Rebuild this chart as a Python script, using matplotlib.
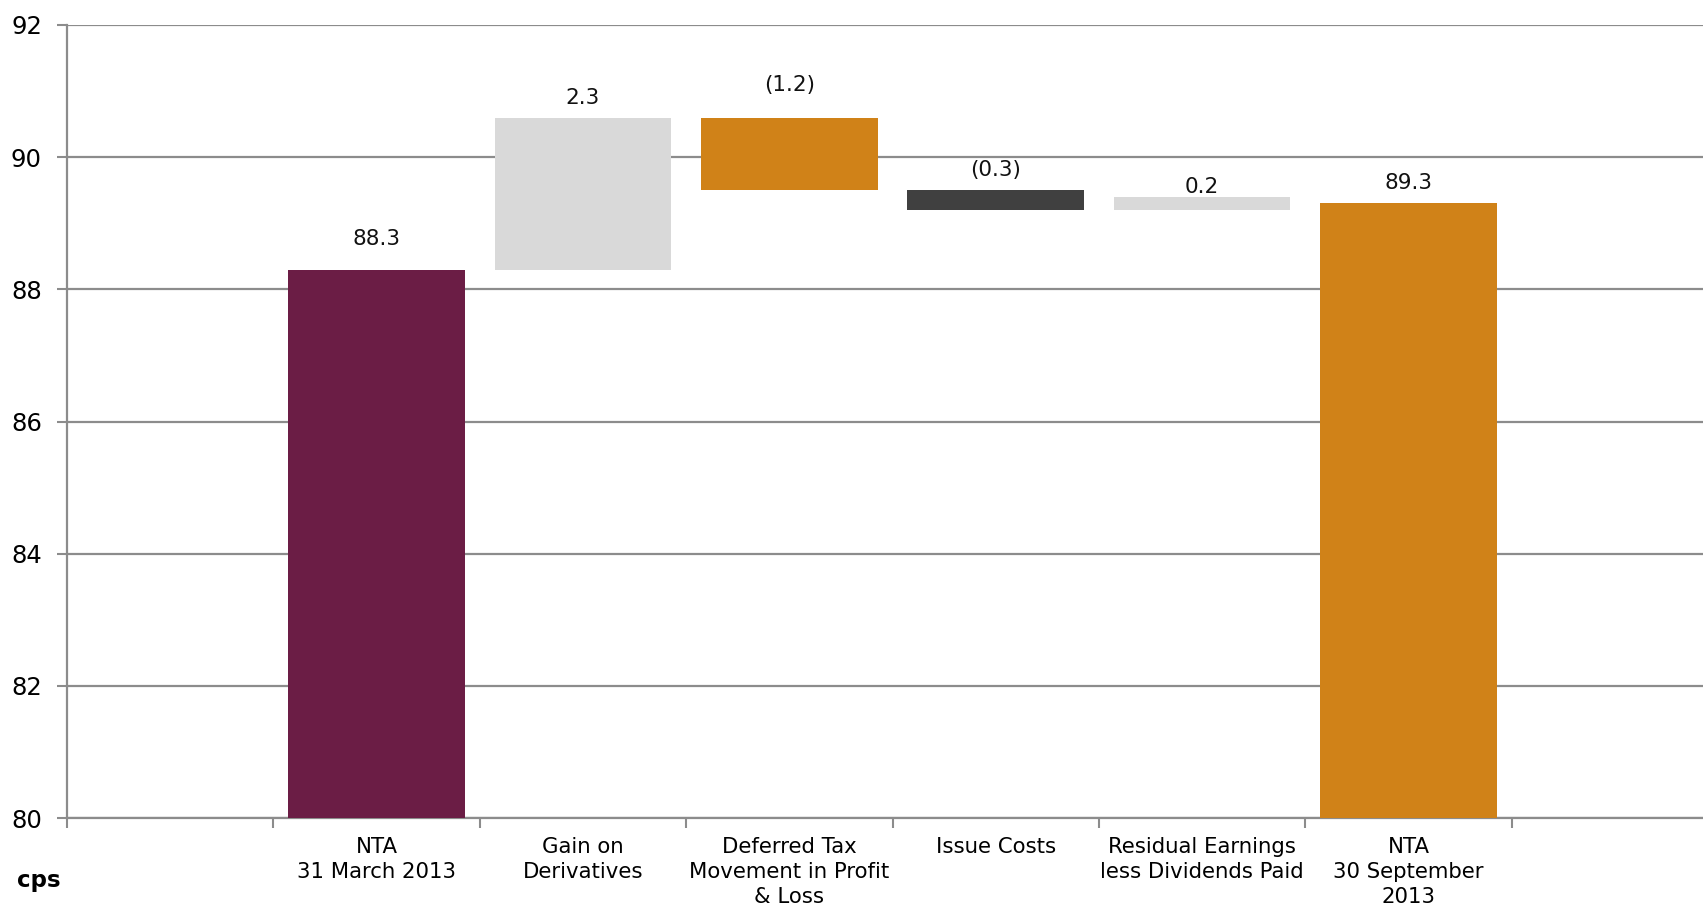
import matplotlib
matplotlib.use("Agg")
import matplotlib.pyplot as plt
import numpy as np

# waterfall steps (cps)
categories = ["", "NTA\n31 March 2013", "Gain on\nDerivatives", "Deferred Tax\nMovement in Profit\n& Loss",
              "Issue Costs", "Residual Earnings\nless Dividends Paid", "NTA\n30 September\n2013", ""]
bar_low = [80.0, 88.3, 89.5, 89.2, 89.2, 80.0]
bar_high = [88.3, 90.6, 90.6, 89.5, 89.4, 89.3]
value_labels = ["88.3", "2.3", "(1.2)", "(0.3)", "0.2", "89.3"]
bar_colors = ["#6B1D45", "#D9D9D9", "#D08218", "#404040", "#D9D9D9", "#D08218"]
label_pad = [15, 6.5, 16, 7, 0, 7.5]  # points above bar top

GRID = "#8C8C8C"

fig = plt.figure(figsize=(17.03, 9.07), dpi=100)
ax = fig.add_axes([67 / 1703, 1 - 818 / 907, (1718 - 67) / 1703, (818 - 25) / 907])

xs = np.arange(1, 1 + len(bar_low))
heights = np.array(bar_high) - np.array(bar_low)
ax.bar(xs, heights, bottom=bar_low, width=0.857, color=bar_colors, zorder=3)

for x, top, text, pad in zip(xs, bar_high, value_labels, label_pad):
    ax.annotate(text, (x, top), xytext=(0, pad), textcoords="offset points",
                ha="center", va="bottom", fontsize=15.5, color="#111111")

ax.set_xlim(-0.5, len(categories) - 0.5)
ax.set_ylim(80, 92)
ax.set_yticks(np.arange(80, 93, 2))
ax.set_xticks(range(len(categories)), categories)
ax.set_xticks(np.arange(-0.5, len(categories), 1.0), minor=True)
ax.tick_params(axis="x", which="major", length=0, pad=13.5, labelsize=15.3)
ax.tick_params(axis="x", which="minor", length=7, width=1.5, color=GRID, direction="out")
ax.tick_params(axis="y", length=7, width=1.5, color=GRID, pad=11, labelsize=17.5)
for lbl in ax.get_xticklabels():
    lbl.set_linespacing(1.32)

ax.grid(axis="y", color=GRID, linewidth=1.6, zorder=0)
ax.set_axisbelow(True)
for side in ("top", "right"):
    ax.spines[side].set_visible(False)
for side in ("left", "bottom"):
    ax.spines[side].set_color(GRID)
    ax.spines[side].set_linewidth(1.6)

fig.text(17 / 1703, 1 - 880 / 907, "cps", fontsize=16.5, fontweight="bold", va="center", ha="left")

fig.savefig("out.png", dpi=100)
